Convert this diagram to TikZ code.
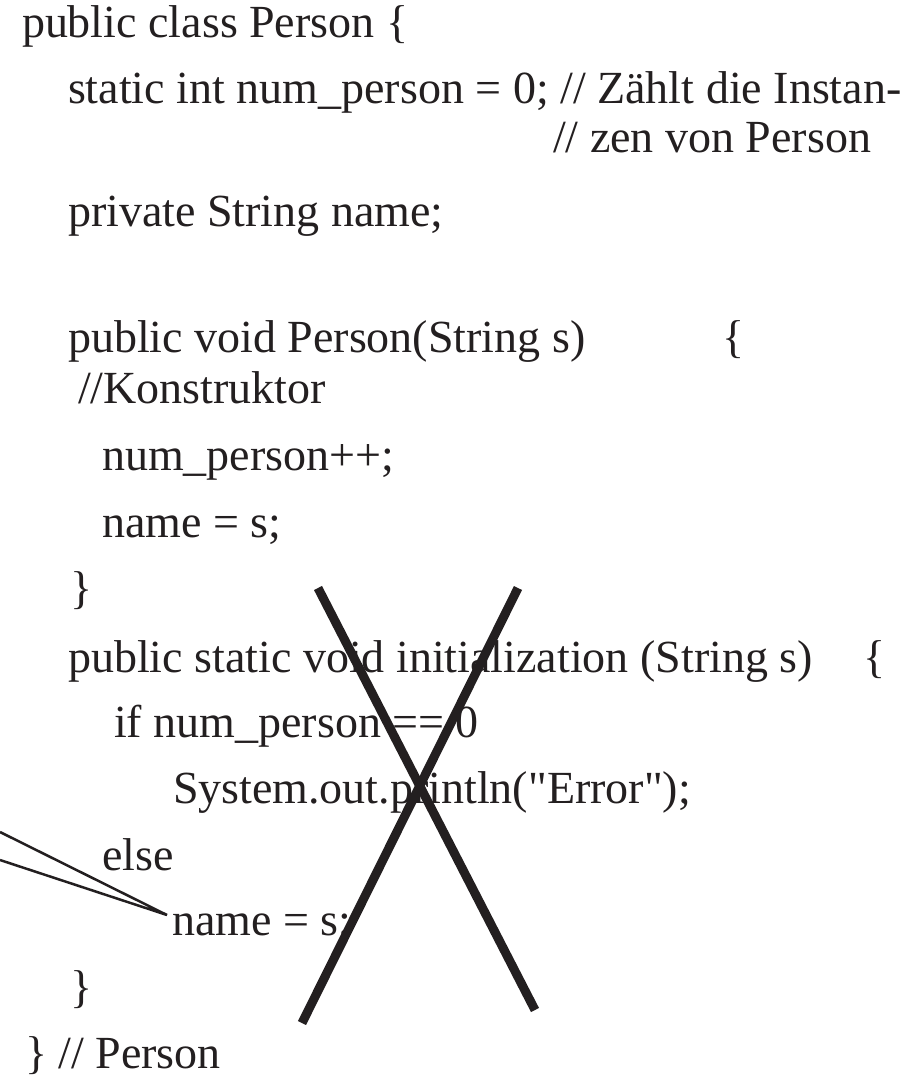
\documentclass[tikz,border=0pt]{standalone}
\usepackage{fontspec}
\setmainfont{Liberation Serif}
\newfontfamily\codefont{Liberation Serif}
\definecolor{ink}{HTML}{231F20}
\begin{document}
\begin{tikzpicture}[x=1pt,y=-1pt,
  code/.style={anchor=base west, inner sep=0pt, outer sep=0pt, text=ink, font=\codefont\fontsize{46}{50}\selectfont},
  cross/.style={line width=9pt, draw=ink},
  callout/.style={line width=2.5pt, draw=ink, line join=miter}]
\useasboundingbox (0,0) rectangle (916,1077);
\node[code] (l1)  at (22,37)   {public class Person \{};
\node[code] (l2)  at (68,103)  {static int num\_person = 0; // Zählt die Instan-};
\node[code] (l3)  at (553,152) {// zen von Person};
\node[code] (l4)  at (68,226)  {private String name;};
\node[code] (l5)  at (68,352)  {public void Person(String s)};
\node[code] (l5b) at (722,352) {\{};
\node[code] (l6)  at (78,403)  {//Konstruktor};
\node[code] (l7)  at (102,470) {num\_person++;};
\node[code] (l8)  at (102,537) {name = s;};
\node[code] (l9)  at (70,603)  {\}};
\node[code] (l10) at (68,672)  {public static void initialization (String s)};
\node[code] (l10b) at (863,672) {\{};
\node[code] (l11) at (114,737) {if num\_person == 0};
\node[code] (l12) at (173,803) {System.out.println("Error");};
\node[code] (l13) at (102,870) {else};
\node[code] (l14) at (172,935) {name = s;};
\node[code] (l15) at (70,1002) {\}};
\node[code] (l16) at (25,1068) {\} // Person};
% callout wedge
\coordinate (cu) at (0,832);
\coordinate (cl) at (0,860);
\coordinate (tip) at (167,915);
\draw[callout] (cu) -- (tip) -- (cl);
% cross
\coordinate (xa) at (318,588);
\coordinate (xb) at (535,1010);
\coordinate (xc) at (518,588);
\coordinate (xd) at (302,1023);
\draw[cross] (xa) -- (xb);
\draw[cross] (xc) -- (xd);
\end{tikzpicture}
\end{document}
